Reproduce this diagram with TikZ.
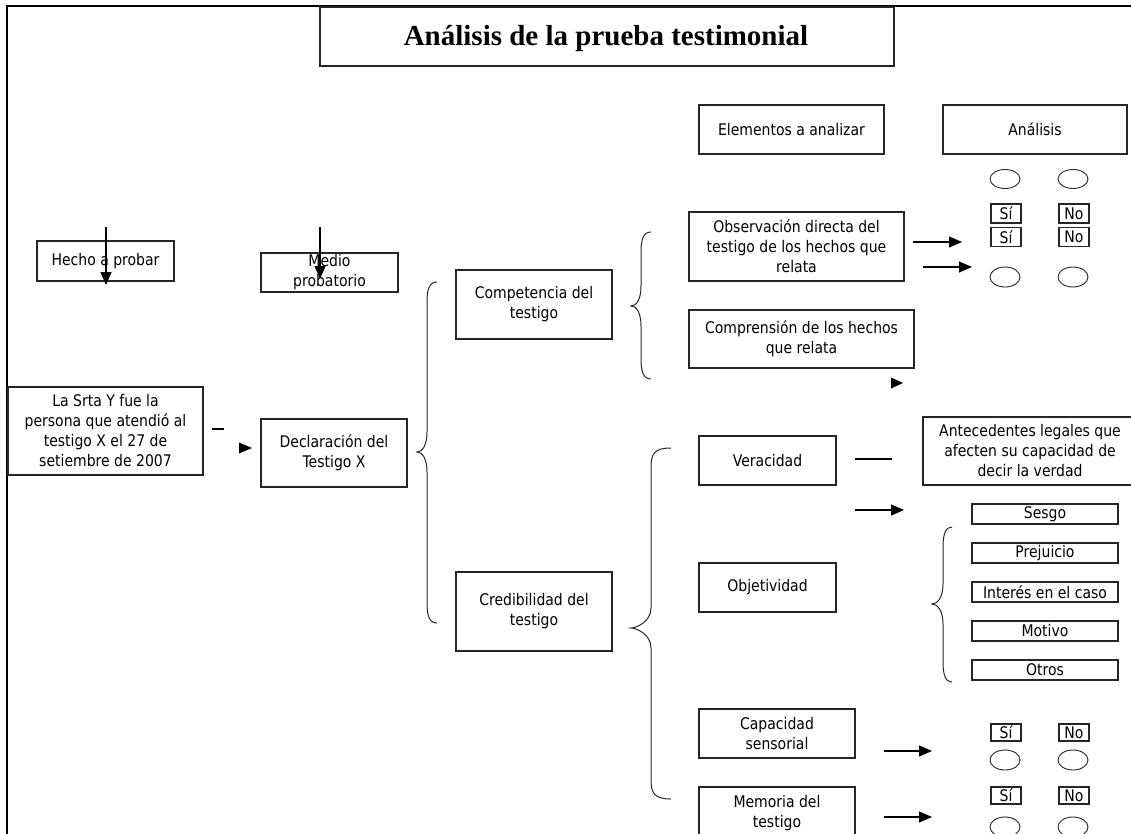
\documentclass[tikz,border=0pt]{standalone}
\usepackage{fontspec}
\setmainfont{DejaVu Sans}[FakeStretch=0.875]
\newfontfamily\titlefont{Liberation Serif}
\usetikzlibrary{shapes.geometric,arrows.meta}
\definecolor{ink}{gray}{0.15}
\tikzset{
  box/.style={draw=ink, line width=1.1pt, rectangle, inner sep=0pt, align=center,
    font=\fontsize{16}{20}\selectfont},
  tag/.style={draw=ink, line width=1.1pt, rectangle, inner sep=0pt, minimum width=30pt,
    font=\fontsize{16}{18}\selectfont},
  oval/.style={draw=ink, line width=0.9pt, ellipse, inner sep=0pt, minimum width=30pt, minimum height=19pt},
  arr/.style={draw=black, line width=1.1pt, -{Triangle[length=13pt,width=11pt]}},
  plain/.style={draw=black, line width=1.1pt},
  bracestyle/.style={draw=ink, line width=1pt},
  tipshape/.style={fill=black, draw=none}
}
\newcommand{\bracepath}[6]{%
  \draw[bracestyle] (#1,#4) .. controls ({#2+3},#4) and (#2,{#4+6}) .. (#2,{#4+20})
    -- (#2,{#5-20}) .. controls (#2,{#5-6}) and ({#3+5},#5) .. (#3,#5)
    .. controls ({#3+5},#5) and (#2,{#5+6}) .. (#2,{#5+20})
    -- (#2,{#6-20}) .. controls (#2,{#6-6}) and ({#2+3},#6) .. (#1,#6);}
\begin{document}
\begin{tikzpicture}[x=1pt,y=-1pt]
\useasboundingbox (0,0) rectangle (1131,834);
\clip (0,0) rectangle (1131,834);
% frame
\draw[draw=black, line width=2pt] (7,835) -- (7,6) -- (1132,6);
% title
\node[box, line width=1.6pt, minimum width=574pt, minimum height=59pt] (title) at (607,36.5) {};
\node[font=\titlefont\bfseries\fontsize{29}{32}\selectfont, inner sep=0pt] (titletext) at (606,39) {Análisis de la prueba testimonial};
% headers
\node[box, minimum width=185pt, minimum height=49pt] (elem) at (791.5,129.5) {Elementos a analizar};
\node[box, minimum width=184pt, minimum height=49pt] (anal) at (1035,129.5) {Análisis};
\node[oval] (e1a) at (1005,179) {};
\node[oval] (e1b) at (1073,179) {};
% observacion
\node[tag, minimum height=19pt] (si1) at (1006,213.5) {Sí};
\node[tag, minimum height=19pt] (no1) at (1074,213.5) {No};
\node[tag, minimum height=19pt] (si2) at (1006,237) {Sí};
\node[tag, minimum height=19pt] (no2) at (1074,237) {No};
\node[oval, minimum height=20pt] (e2a) at (1005,277) {};
\node[oval, minimum height=20pt] (e2b) at (1073,277) {};
\node[box, minimum width=215pt, minimum height=69pt] (obs) at (796.5,246.5) {Observación directa del\\testigo de los hechos que\\relata};
\coordinate (a1s) at (913,242); \coordinate (a1e) at (962,242);
\coordinate (a2s) at (923,267); \coordinate (a2e) at (972,267);
\draw[arr] (a1s) -- (a1e);
\draw[arr] (a2s) -- (a2e);
\node[box, minimum width=225pt, minimum height=58pt] (comp) at (801.5,339) {Comprensión de los hechos\\que relata};
\fill[tipshape] (891,377.5) -- (903,383) -- (891,388.5) -- cycle;
% left column
\node[box, minimum width=137pt, minimum height=40pt] (hecho) at (105.5,261) {Hecho a probar};
\node[box, minimum width=137pt, minimum height=39pt] (medio) at (329.5,272.5) {Medio\\probatorio};
\coordinate (h1) at (106,227); \coordinate (h2) at (106,285);
\coordinate (m1) at (320,227); \coordinate (m2) at (320,279);
\draw[arr] (h1) -- (h2);
\draw[arr] (m1) -- (m2);
\node[box, minimum width=195pt, minimum height=88pt] (srta) at (105.5,431) {La Srta Y fue la\\persona que atendió al\\testigo X el 27 de\\setiembre de 2007};
\coordinate (s1) at (212,429); \coordinate (s2) at (224,429);
\draw[plain] (s1) -- (s2);
\fill[tipshape] (239,442.5) -- (252,448) -- (239,453.5) -- cycle;
\node[box, minimum width=146pt, minimum height=68pt] (decl) at (334,453) {Declaración del\\Testigo X};
\bracepath{437}{427}{417}{282}{452}{623}
% competencia
\node[box, minimum width=156pt, minimum height=69pt] (compet) at (534,304.5) {Competencia del\\testigo};
\bracepath{651}{641}{631}{232}{306}{379}
% credibilidad
\node[box, minimum width=156pt, minimum height=79pt] (cred) at (534,611.5) {Credibilidad del\\testigo};
\bracepath{671}{651}{631}{448}{628}{799}
\node[box, minimum width=137pt, minimum height=49pt] (ver) at (767.5,460.5) {Veracidad};
\node[box, minimum width=137pt, minimum height=49pt] (obj) at (767.5,587.5) {Objetividad};
\node[box, minimum width=156pt, minimum height=49pt] (cap) at (777,733.5) {Capacidad\\sensorial};
\node[box, minimum width=156pt, minimum height=52pt] (mem) at (777,813) {Memoria del\\testigo};
% veracidad
\coordinate (v1) at (855,459); \coordinate (v2) at (892,459);
\draw[plain] (v1) -- (v2);
\node[box, minimum width=214pt, minimum height=68pt] (ante) at (1030,451) {Antecedentes legales que\\afecten su capacidad de\\decir la verdad};
\coordinate (o1) at (855,510); \coordinate (o2) at (904,510);
\draw[arr] (o1) -- (o2);
% objetividad list
\node[box, minimum width=146pt, minimum height=20pt] (sesgo) at (1045,514) {Sesgo};
\node[box, minimum width=146pt, minimum height=20pt] (prej) at (1045,553) {Prejuicio};
\node[box, minimum width=146pt, minimum height=20pt] (inter) at (1045,592) {Interés en el caso};
\node[box, minimum width=146pt, minimum height=20pt] (motivo) at (1045,631) {Motivo};
\node[box, minimum width=146pt, minimum height=20pt] (otros) at (1045,670) {Otros};
\bracepath{952}{943}{932}{527}{604}{682}
% capacidad
\coordinate (c1) at (884,751); \coordinate (c2) at (932,751);
\draw[arr] (c1) -- (c2);
\node[tag, minimum height=17pt] (si3) at (1006,732.5) {Sí};
\node[tag, minimum height=17pt] (no3) at (1074,732.5) {No};
\node[oval, minimum height=20pt] (e3a) at (1005,760) {};
\node[oval, minimum height=20pt] (e3b) at (1073,760) {};
% memoria
\coordinate (d1) at (884,817); \coordinate (d2) at (932,817);
\draw[arr] (d1) -- (d2);
\node[tag, minimum height=17pt] (si4) at (1006,795.5) {Sí};
\node[tag, minimum height=17pt] (no4) at (1074,795.5) {No};
\node[oval, minimum height=20pt] (e4a) at (1005,827) {};
\node[oval, minimum height=20pt] (e4b) at (1073,827) {};
\end{tikzpicture}
\end{document}
